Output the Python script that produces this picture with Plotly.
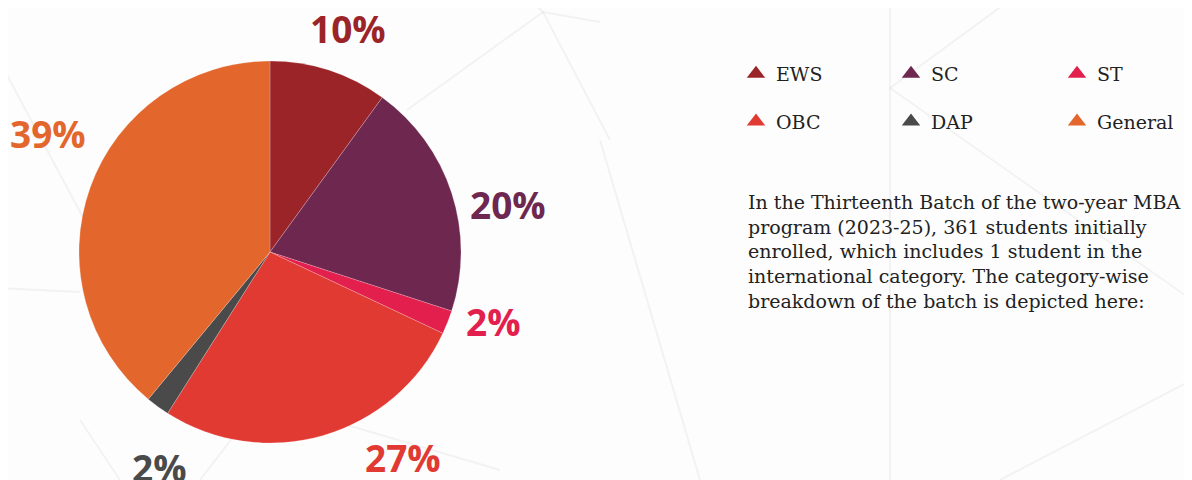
import plotly.graph_objects as go

categories = ["EWS", "SC", "ST", "OBC", "DAP", "General"]
shares = [10, 20, 2, 27, 2, 39]
colors = ["#9B2428", "#6E2850", "#E21F4D", "#E13A33", "#4A4A4A", "#E3672D"]

blurb_lines = [
    "In the Thirteenth Batch of the two-year MBA",
    "program (2023-25), 361 students initially",
    "enrolled, which includes 1 student in the",
    "international category. The category-wise",
    "breakdown of the batch is depicted here:",
]

# page has an 8px body margin, so work in page pixels and convert
OFF = 8
W, H = 1192 - OFF, 480 - OFF
BG = "#FDFDFD"
INK = "#222222"


def px(x):
    return (x - OFF) / W


def py(y):
    return 1 - (y - OFF) / H


# where the designer put each percentage label (page px, text centre)
label_pos = [(348, 28), (508, 204), (493, 321), (403, 457), (159, 467), (48, 134)]

fig = go.Figure()

cx, cy, r = 270, 252, 191
fig.add_trace(go.Pie(
    labels=categories,
    values=shares,
    sort=False,
    direction="clockwise",
    rotation=0,
    marker=dict(colors=colors, line=dict(color="rgba(255,255,255,0.35)", width=0.6)),
    textinfo="none",
    showlegend=False,
    hoverinfo="label+percent",
    domain=dict(x=[px(cx - r), px(cx + r)], y=[py(cy + r), py(cy - r)]),
))

for name, val, col, (lx, ly) in zip(categories, shares, colors, label_pos):
    fig.add_annotation(
        xref="paper", yref="paper", x=px(lx), y=py(ly), xanchor="center", yanchor="middle",
        text=f"{val}%", showarrow=False,
        font=dict(family="Open Sans", size=37, color=col, weight="bold"),
    )

# legend entries with triangle markers, three columns of two
legend_names = ["legend", "legend2", "legend3"]
for i, (name, col) in enumerate(zip(categories, colors)):
    fig.add_trace(go.Scatter(
        x=[None], y=[None], mode="markers", name=name,
        marker=dict(symbol="triangle-up", size=18, color=col),
        legend=legend_names[i % 3], legendgroup=name,
    ))

leg_common = dict(
    orientation="v", yanchor="top", y=py(55),
    bgcolor="rgba(0,0,0,0)", font=dict(family="DejaVu Serif", size=19, color=INK),
    tracegroupgap=20, itemclick=False, itemdoubleclick=False,
)

# faint decorative network lines in the background
bg_lines = [
    (407, 110, 543, 12), (543, 12, 600, 22), (543, 12, 610, 140), (543, 12, 520, -10),
    (0, 62, 95, 240), (0, 288, 80, 292), (200, 480, 300, 350), (890, 0, 890, 480),
    (890, 88, 1010, 0), (890, 88, 1192, 300), (330, 420, 500, 470), (600, 140, 700, 480),
    (120, 480, 80, 420), (1000, 480, 1192, 380),
]
shapes = [
    dict(type="line", xref="paper", yref="paper", layer="below",
         x0=px(a), y0=py(b), x1=px(c), y1=py(d),
         line=dict(color="rgba(0,0,0,0.045)", width=2))
    for a, b, c, d in bg_lines
]

fig.add_annotation(
    xref="paper", yref="paper", x=px(746), y=py(189), xanchor="left", yanchor="top",
    text="<br>".join(blurb_lines), showarrow=False, align="left",
    font=dict(family="DejaVu Serif", size=19, color=INK),
)

fig.update_layout(
    width=W, height=H,
    margin=dict(l=0, r=0, t=0, b=0),
    paper_bgcolor=BG, plot_bgcolor=BG,
    xaxis=dict(visible=False), yaxis=dict(visible=False),
    legend=dict(leg_common, x=px(736)),
    legend2=dict(leg_common, x=px(891)),
    legend3=dict(leg_common, x=px(1057)),
    shapes=shapes,
)

fig.write_html("out.html")
